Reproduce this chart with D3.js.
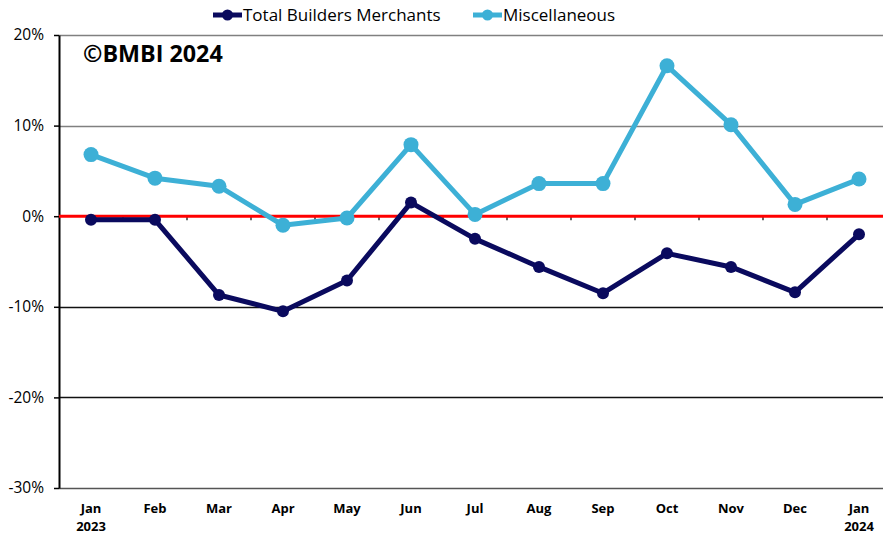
<!DOCTYPE html>
<html>
<head>
<meta charset="utf-8">
<script src="https://cdn.jsdelivr.net/npm/d3@7"></script>
<style>
  body { margin: 0; background: #fff; }
  svg { display: block; font-family: "Open Sans", "Noto Sans", sans-serif; }
</style>
</head>
<body>
<svg id="chart" width="883" height="535"></svg>
<script>
// Monthly change, builders merchants vs miscellaneous category
const months = ["Jan|2023", "Feb", "Mar", "Apr", "May", "Jun", "Jul", "Aug", "Sep", "Oct", "Nov", "Dec", "Jan|2024"];
const totalBM = [-0.4, -0.4, -8.7, -10.5, -7.1, 1.5, -2.5, -5.6, -8.5, -4.1, -5.6, -8.4, -2.0];
const misc = [6.8, 4.2, 3.3, -1.0, -0.2, 7.9, 0.2, 3.6, 3.6, 16.6, 10.1, 1.3, 4.1];
const yTicks = [20, 10, 0, -10, -20, -30];

const series = [
  { name: "Total Builders Merchants", values: totalBM, color: "#0a0a5e", r: 6 },
  { name: "Miscellaneous", values: misc, color: "#3db0d6", r: 7.5 }
];

const svg = d3.select("#chart");
const margin = { left: 59, top: 35, bottom: 47 };
const height = 535;

const x = d3.scaleBand().domain(months).range([margin.left, margin.left + 64 * months.length]);
const y = d3.scaleLinear().domain([-30, 20]).range([height - margin.bottom, margin.top]);

// gridlines
svg.append("g")
  .selectAll("line")
  .data(yTicks.filter(d => d !== 0))
  .join("line")
  .attr("x1", margin.left).attr("x2", 883)
  .attr("y1", d => Math.round(y(d)) + 0.5).attr("y2", d => Math.round(y(d)) + 0.5)
  .attr("stroke", d => d > 0 ? "#808080" : (d === -30 ? "#555" : "#111"))
  .attr("stroke-width", 1.3);

// y axis
const yAxis = svg.append("g")
  .attr("transform", `translate(${margin.left},0)`)
  .call(d3.axisLeft(y).tickValues(yTicks).tickFormat(d => d + "%").tickSize(5).tickSizeOuter(0));
yAxis.select(".domain").attr("stroke", "#000").attr("stroke-width", 2);
yAxis.selectAll(".tick line").attr("stroke", "#000").attr("stroke-width", 1.5);
yAxis.selectAll(".tick text")
  .attr("x", -15)
  .attr("font-size", 15.5)
  .attr("fill", "#000")
  .attr("font-family", "'Open Sans', 'Noto Sans', sans-serif");

// zero line and category ticks on it
svg.append("g")
  .selectAll("line")
  .data(months.slice(1))
  .join("line")
  .attr("x1", d => x(d)).attr("x2", d => x(d))
  .attr("y1", y(0)).attr("y2", y(0) + 4)
  .attr("stroke", "#000").attr("stroke-width", 1.2);

svg.append("line")
  .attr("x1", margin.left).attr("x2", 883)
  .attr("y1", y(0)).attr("y2", y(0))
  .attr("stroke", "#ff0000").attr("stroke-width", 3);

// x labels
const xl = svg.append("g")
  .selectAll("text")
  .data(months)
  .join("text")
  .attr("x", d => x(d) + x.bandwidth() / 2)
  .attr("y", 513)
  .attr("text-anchor", "middle")
  .attr("font-size", 13)
  .attr("font-weight", "bold")
  .attr("fill", "#000");
xl.each(function (d) {
  const parts = d.split("|");
  d3.select(this).selectAll("tspan")
    .data(parts)
    .join("tspan")
    .attr("x", x(d) + x.bandwidth() / 2)
    .attr("dy", (p, i) => i === 0 ? 0 : 17.5)
    .text(p => p);
});

// lines and markers
const line = d3.line()
  .x((d, i) => x(months[i]) + x.bandwidth() / 2)
  .y(d => y(d));

series.forEach(s => {
  svg.append("path")
    .datum(s.values)
    .attr("fill", "none")
    .attr("stroke", s.color)
    .attr("stroke-width", 5)
    .attr("stroke-linejoin", "round")
    .attr("d", line);
  svg.append("g")
    .selectAll("circle")
    .data(s.values)
    .join("circle")
    .attr("cx", (d, i) => x(months[i]) + x.bandwidth() / 2)
    .attr("cy", d => y(d))
    .attr("r", s.r)
    .attr("fill", s.color);
});

// watermark
svg.append("text")
  .attr("x", 83).attr("y", 62)
  .attr("font-size", 23.3)
  .attr("font-weight", "bold")
  .attr("fill", "#000")
  .text("\u00A9BMBI 2024");

// legend
const legendPos = [213, 473];
series.forEach((s, i) => {
  const g = svg.append("g").attr("transform", `translate(${legendPos[i]},15)`);
  g.append("line").attr("x1", 0).attr("x2", 29).attr("stroke", s.color).attr("stroke-width", 5);
  g.append("circle").attr("cx", 14.5).attr("r", 5.5).attr("fill", s.color);
  g.append("text")
    .attr("x", 30).attr("y", 6)
    .attr("font-size", 17)
    .attr("fill", "#000")
    .text(s.name);
});
</script>
</body>
</html>
